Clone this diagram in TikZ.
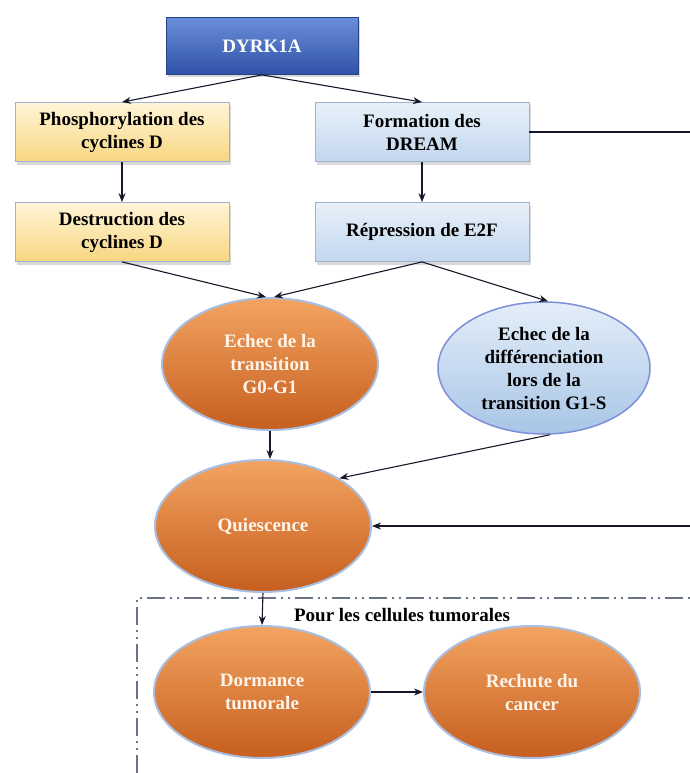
\documentclass[tikz,border=0pt]{standalone}
\usepackage{fontspec}
\setmainfont{Liberation Serif}
\usetikzlibrary{shapes.geometric,arrows.meta,shadows}

\definecolor{dyrktop}{HTML}{6A8ED8}
\definecolor{dyrkbot}{HTML}{2F52A8}
\definecolor{yeltop}{HTML}{FFF5D8}
\definecolor{yelbot}{HTML}{F8D680}
\definecolor{bltop}{HTML}{E8F1FA}
\definecolor{blbot}{HTML}{C2D6EE}
\definecolor{bord}{HTML}{9DB2D0}
\definecolor{ortop}{HTML}{F3A462}
\definecolor{orbot}{HTML}{C65E1E}
\definecolor{glow}{HTML}{A9BFE2}
\definecolor{elltop}{HTML}{E4EEF9}
\definecolor{ellbot}{HTML}{A8C5E6}
\definecolor{dashcol}{HTML}{6B7486}
\definecolor{arrcol}{HTML}{16182A}

\tikzset{
  arr/.style={-{Stealth[length=9pt,width=7pt]}, line width=1.1pt, draw=arrcol},
  txt/.style={font=\fontsize{19}{23}\selectfont\bfseries, align=center},
  boxbase/.style={txt, rectangle, draw=bord, line width=0.8pt, minimum width=214pt, minimum height=59pt,
    drop shadow={opacity=0.3, shadow xshift=2pt, shadow yshift=-3pt}},
  dyrkbox/.style={boxbase, draw=dyrkbot!80!black, top color=dyrktop, bottom color=dyrkbot, text=white,
    minimum width=192pt, minimum height=57pt},
  yelbox/.style={boxbase, top color=yeltop, bottom color=yelbot},
  bluebox/.style={boxbase, top color=bltop, bottom color=blbot},
  orell/.style={txt, ellipse, inner sep=0pt, draw=glow, line width=2pt, top color=ortop, bottom color=orbot,
    text=white!92!orange, minimum width=216pt, minimum height=132pt},
  blell/.style={txt, ellipse, inner sep=0pt, draw=bord!80!blue, line width=1.5pt, top color=elltop, bottom color=ellbot,
    minimum width=212pt, minimum height=132pt},
  tumbox/.style={draw=dashcol, line width=1.5pt, dash pattern=on 18pt off 5pt on 2pt off 5pt on 2pt off 5pt}
}

\begin{document}
\begin{tikzpicture}[x=1pt, y=-1pt]
    %%%%% START %%%%%
    \useasboundingbox (0,0) rectangle (689,773);

    \draw[tumbox] (720,598) -- (137,598) -- (137,800);
    \node[txt] (tumlab) at (402,615) {Pour les cellules tumorales};

    \node[dyrkbox] (dyrk) at (262,46) {DYRK1A};

    \node[yelbox] (phos) at (122,132) {Phosphorylation des\\cyclines D};
    \node[bluebox] (form) at (422,132) {Formation des\\DREAM};
    \node[yelbox] (dest) at (122,232) {Destruction des\\cyclines D};
    \node[bluebox] (rep) at (422,232) {Répression de E2F};

    \node[orell] (ech0) at (270,364) {Echec de la\\transition\\G0-G1};
    \node[blell] (echd) at (544,368) {Echec de la\\différenciation\\lors de la\\transition G1-S};
    \node[orell] (quies) at (263,526) {Quiescence};
    \node[orell] (dorm) at (262,692) {Dormance\\tumorale};
    \node[orell] (rech) at (532,692) {Rechute du\\cancer};

    \coordinate (rtop) at (700,132);

    \draw[arr] (dyrk.south) -- (phos.north);
    \draw[arr] (dyrk.south) -- (form.north);
    \draw[arr] (phos.south) -- (dest.north);
    \draw[arr] (form.south) -- (rep.north);
    \draw[arr] (dest.south) -- ([xshift=-4pt]ech0.north);
    \draw[arr] (rep.south) -- ([xshift=4pt]ech0.north);
    \draw[arr] (rep.south) -- ([xshift=4pt]echd.north);
    \draw[arr] (ech0.south) -- (ech0.south |- quies.north);
    \draw[arr] ([xshift=6pt]echd.south) -- (quies.32);
    \draw[arr] (form.east) -- (rtop) |- (quies.east);
    \draw[arr] (quies.south) -- (dorm.north);
    \draw[arr] (dorm.east) -- (rech.west);
    %%%%% END %%%%%
\end{tikzpicture}
\end{document}
